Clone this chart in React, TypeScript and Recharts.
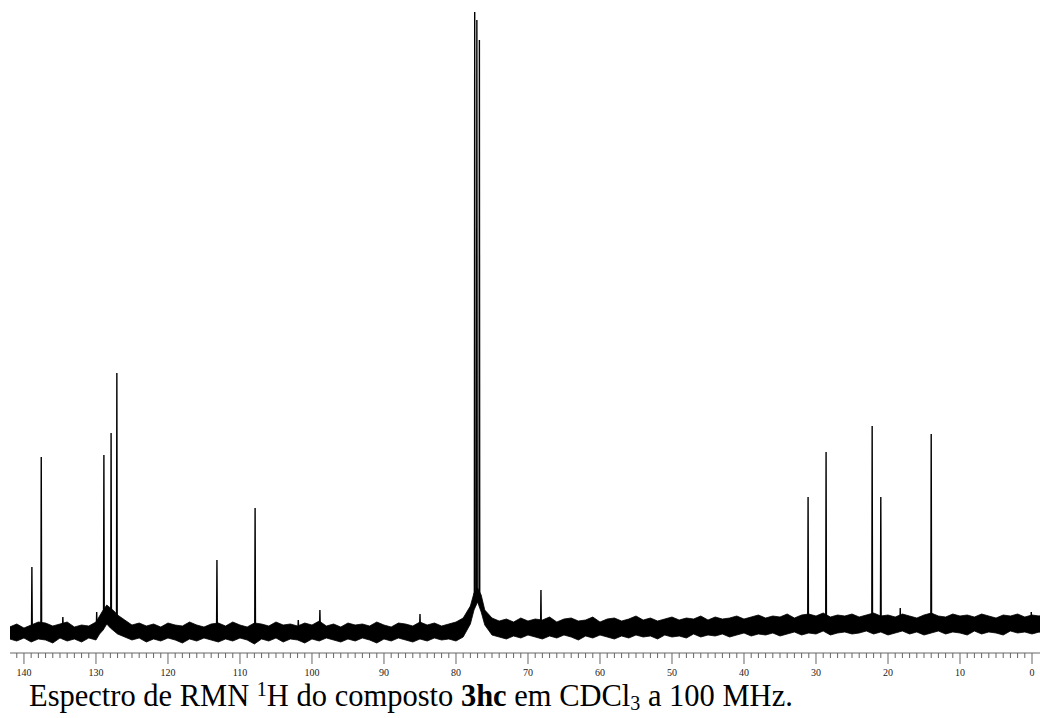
import React from 'react';
import { ComposedChart, Line, Area, XAxis, YAxis } from 'recharts';

// Peak positions (ppm), heights and local baseline level (intensity units)
const peakPpm = [138.9, 137.6, 134.6, 129.9, 128.9, 127.9, 127.1, 113.2, 107.9, 101.9, 98.9, 85.0, 77.4, 77.1, 76.75, 68.2, 31.1, 28.6, 22.2, 21.0, 18.3, 14.0, 0.1];
const peakHeight = [61, 171, 11, 16, 173, 195, 255, 68, 120, 8, 18, 14, 616, 608, 588, 38, 131, 176, 202, 131, 20, 194, 16];
const peakBase = [0, 0, 0, 0, 8, 8, 2, 0, 0, 0, 0, 0, 30, 32, 30, 0, 0, 0, 0, 0, 0, 0, 0];

// Baseline noise envelope: [ppm, low, high]
const noiseEnvelope: [number, number, number][] = [
  [142, -11, 1], [141, -13, 4], [140, -10, 0], [139, -14, 3], [138, -11, 6], [137, -12, 5],
  [136, -15, 2], [135, -10, 4], [134, -13, 6], [133, -11, 1], [132, -14, 3], [131, -10, 2],
  [130, -12, 6], [129.5, -6, 12], [129, -2, 18], [128.5, 4, 23], [128, 0, 20], [127.5, -3, 17],
  [127, -6, 13], [126, -9, 8], [125, -12, 3], [124, -10, 5], [123, -14, 2], [122, -11, 4],
  [121, -13, 1], [120, -10, 5], [119, -12, 3], [118, -15, 2], [117, -11, 6], [116, -13, 3],
  [115, -10, 1], [114, -12, 4], [113, -14, 5], [112, -11, 2], [111, -13, 6], [110, -10, 3],
  [109, -12, 1], [108, -16, 5], [107, -11, 4], [106, -13, 2], [105, -10, 6], [104, -14, 3],
  [103, -11, 4], [102, -12, 2], [101, -15, 5], [100, -11, 3], [99, -13, 7], [98, -10, 2],
  [97, -12, 4], [96, -14, 1], [95, -11, 5], [94, -13, 3], [93, -10, 4], [92, -12, 2],
  [91, -15, 6], [90, -11, 3], [89, -13, 1], [88, -10, 5], [87, -12, 4], [86, -14, 2],
  [85, -11, 6], [84, -13, 3], [83, -10, 5], [82, -12, 2], [81, -11, 4], [80, -13, 6],
  [79, -9, 10], [78, 4, 22], [77.5, 18, 35], [77, 26, 40], [76.5, 16, 33], [76, 3, 18],
  [75, -7, 10], [74, -9, 7], [73, -11, 9], [72, -8, 6], [71, -10, 10], [70, -7, 7],
  [69, -9, 9], [68, -11, 8], [67, -8, 11], [66, -10, 6], [65, -7, 9], [64, -9, 10],
  [63, -12, 7], [62, -8, 8], [61, -10, 11], [60, -7, 6], [59, -9, 9], [58, -11, 10],
  [57, -8, 7], [56, -10, 9], [55, -7, 12], [54, -9, 8], [53, -8, 10], [52, -11, 7],
  [51, -7, 9], [50, -9, 11], [49, -8, 8], [48, -10, 10], [47, -6, 9], [46, -9, 12],
  [45, -7, 8], [44, -8, 11], [43, -6, 9], [42, -9, 10], [41, -7, 12], [40, -5, 9],
  [39, -8, 11], [38, -6, 13], [37, -7, 10], [36, -5, 12], [35, -8, 11], [34, -6, 14],
  [33, -4, 10], [32, -7, 13], [31, -5, 14], [30, -6, 12], [29, -3, 15], [28, -7, 11],
  [27, -5, 13], [26, -4, 12], [25, -6, 14], [24, -5, 11], [23, -3, 13], [22, -6, 15],
  [21, -4, 12], [20, -7, 13], [19, -5, 11], [18, -3, 14], [17, -6, 12], [16, -4, 10],
  [15, -7, 13], [14, -5, 15], [13, -3, 12], [12, -6, 11], [11, -4, 14], [10, -5, 12],
  [9, -7, 13], [8, -3, 11], [7, -6, 14], [6, -4, 12], [5, -5, 10], [4, -7, 13],
  [3, -3, 12], [2, -5, 14], [1, -4, 11], [0, -6, 13], [-1, -4, 12], [-1.2, -5, 13],
];

const majorTicks = [0, 10, 20, 30, 40, 50, 60, 70, 80, 90, 100, 110, 120, 130, 140];
const allTicks = Array.from({ length: 142 }, (_, i) => i);

// each peak drawn as its own narrow spike; null breaks the line between peaks
const lineData = peakPpm
  .map((p, i) => ({ p, h: peakHeight[i], b: peakBase[i] }))
  .sort((a, b) => b.p - a.p)
  .flatMap(({ p, h, b }) => [
    { ppm: p + 0.05, v: b },
    { ppm: p, v: h },
    { ppm: p - 0.05, v: b },
    { ppm: p - 0.06, v: null },
  ]);

const bandData = noiseEnvelope.map(([p, lo, hi]) => ({ ppm: p, band: [lo, hi] }));

const serif = "'Liberation Serif', 'Times New Roman', serif";

const Tick = (props: any) => {
  const { x, y, payload } = props;
  const val = payload.value;
  const major = majorTicks.includes(val);
  return (
    <g>
      <line x1={x} x2={x} y1={y} y2={y + (major ? 11 : 5)} stroke="#666" strokeWidth={1} />
      {major && (
        <text x={x} y={y + 23} textAnchor="middle" fontSize={10} fontFamily={serif} fill="#222">
          {val}
        </text>
      )}
    </g>
  );
};

export default function App() {
  return (
    <div style={{ position: 'absolute', left: 0, top: 0, width: 1040, height: 718, background: '#fff' }}>
      <ComposedChart width={1040} height={690} margin={{ top: 0, right: 0, left: 10, bottom: 7 }}>
        <XAxis
          dataKey="ppm"
          type="number"
          domain={[-1.11, 141.94]}
          reversed
          allowDataOverflow
          ticks={allTicks}
          interval={0}
          tick={<Tick />}
          tickLine={false}
          tickSize={0}
          tickMargin={0}
          axisLine={{ stroke: '#666' }}
          height={30}
        />
        <YAxis hide domain={[-25, 628]} allowDataOverflow />
        <Area
          data={bandData}
          dataKey="band"
          type="linear"
          stroke="#000"
          strokeWidth={0.8}
          fill="#000"
          fillOpacity={1}
          dot={false}
          activeDot={false}
          isAnimationActive={false}
        />
        <Line
          data={lineData}
          dataKey="v"
          type="linear"
          stroke="#000"
          strokeWidth={1.4}
          dot={false}
          activeDot={false}
          connectNulls={false}
          isAnimationActive={false}
        />
      </ComposedChart>
      <svg width={1040} height={718} style={{ position: 'absolute', left: 0, top: 0, pointerEvents: 'none' }}>
        <text x={29} y={706} fontFamily={serif} fontSize={30.5} fill="#000">
          <tspan>{'Espectro de RMN '}</tspan>
          <tspan fontSize={20} dy={-10}>{'1'}</tspan>
          <tspan dy={10}>{'H do composto '}</tspan>
          <tspan fontWeight="bold">{'3hc'}</tspan>
          <tspan>{' em CDCl'}</tspan>
          <tspan fontSize={20} dy={4}>{'3'}</tspan>
          <tspan dy={-4}>{' a 100 MHz.'}</tspan>
        </text>
      </svg>
    </div>
  );
}
